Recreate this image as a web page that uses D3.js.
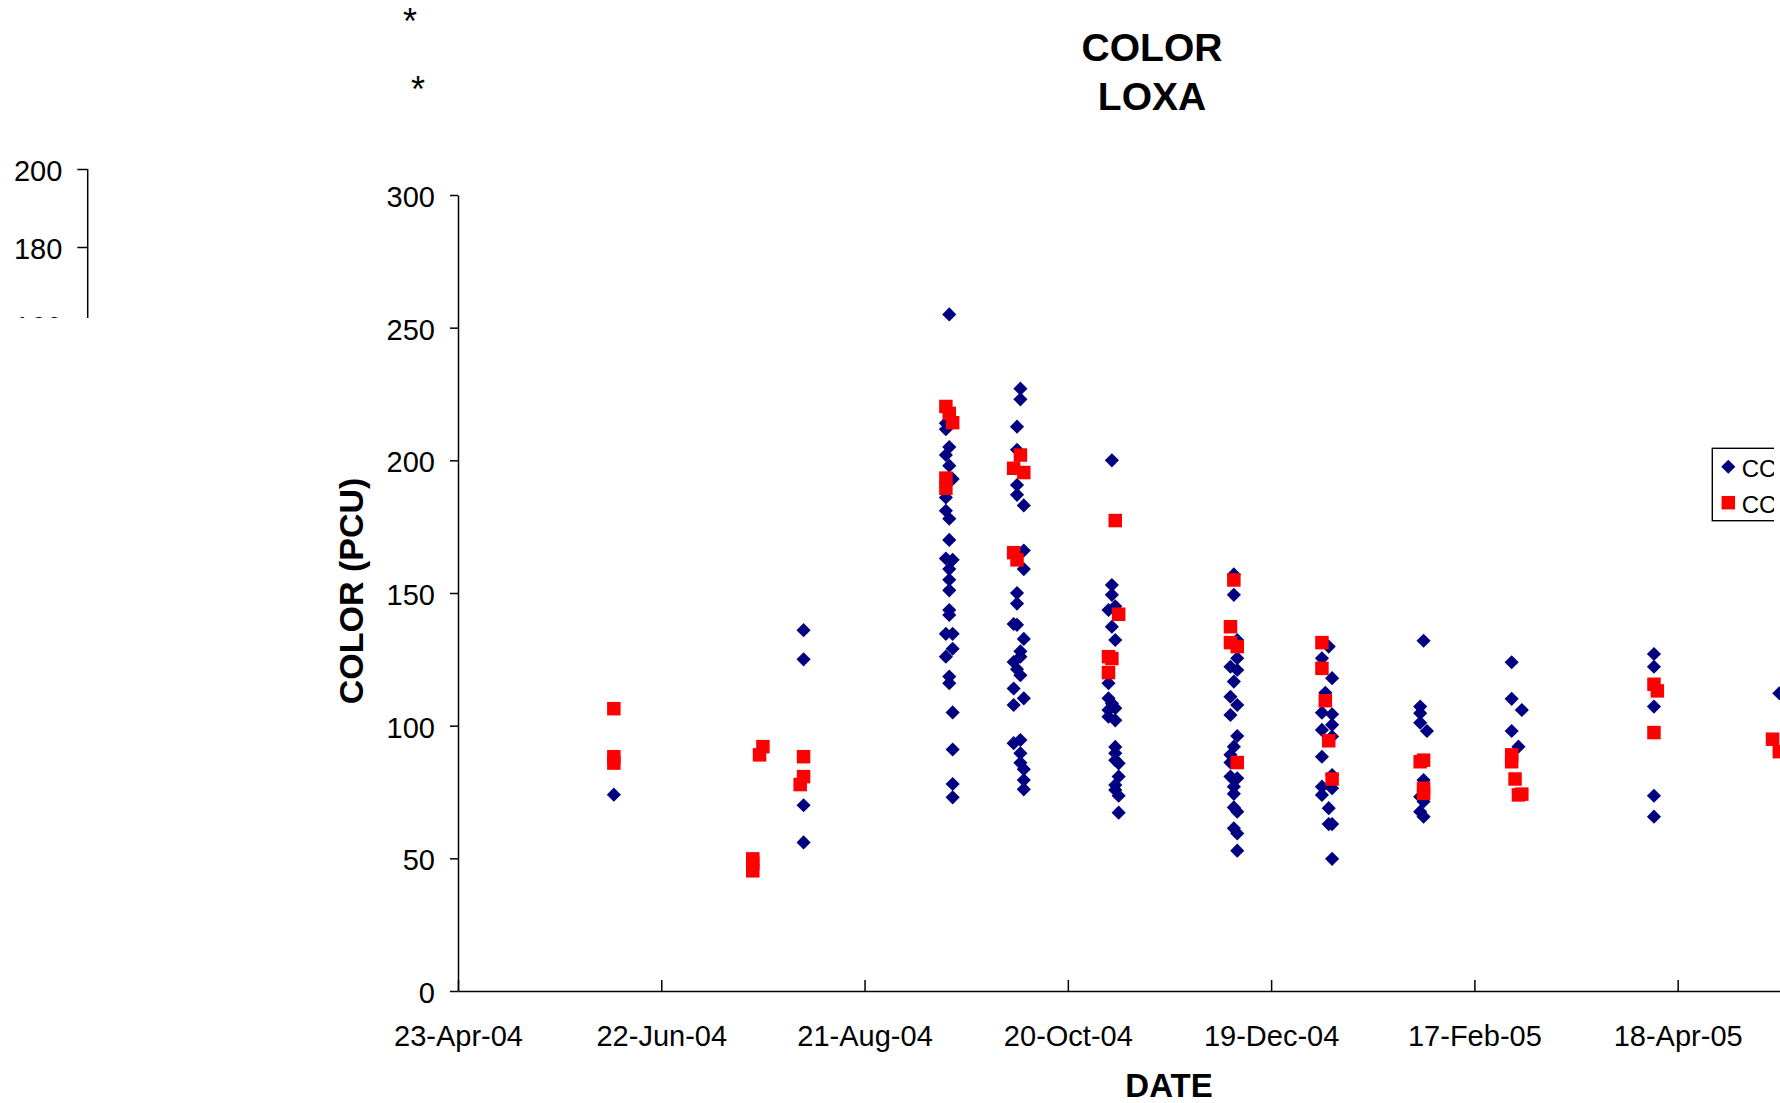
<!DOCTYPE html>
<html>
<head>
<meta charset="utf-8">
<script src="https://cdn.jsdelivr.net/npm/d3@7"></script>
<style>
  html, body { margin: 0; padding: 0; background: #fff; }
  svg { display: block; }
  text { font-family: "Liberation Sans", Arial, sans-serif; fill: #000; }
</style>
</head>
<body>
<svg id="chart" width="1780" height="1103"></svg>
<script>
// ---------------- DATA ----------------
const chartTitle = ["COLOR", "LOXA"];
const xTitle = "DATE";
const yTitle = "COLOR (PCU)";
const seriesNames = ["CC", "CC"];
const seriesColors = ["#000080", "#FF0000"];

const yTicks = [0, 50, 100, 150, 200, 250, 300];
const xTickDates = ["2004-04-23", "2004-06-22", "2004-08-21", "2004-10-20", "2004-12-19", "2005-02-17", "2005-04-18"];
const xTickLabels = ["23-Apr-04", "22-Jun-04", "21-Aug-04", "20-Oct-04", "19-Dec-04", "17-Feb-05", "18-Apr-05"];
const leftFragmentTicks = [160, 180, 200];

// Series 1 (navy diamonds)
const s1Dates = [
  "2004-06-08",
  "2004-08-03","2004-08-03","2004-08-03","2004-08-03",
  "2004-09-15","2004-09-14","2004-09-14","2004-09-15","2004-09-14","2004-09-15","2004-09-16","2004-09-14","2004-09-14","2004-09-15",
  "2004-09-15","2004-09-14","2004-09-16","2004-09-15","2004-09-15","2004-09-15","2004-09-15","2004-09-15","2004-09-14","2004-09-16",
  "2004-09-16","2004-09-14","2004-09-15","2004-09-15","2004-09-16","2004-09-16","2004-09-16","2004-09-16",
  "2004-10-06","2004-10-06","2004-10-05","2004-10-05","2004-10-05","2004-10-05","2004-10-07","2004-10-07","2004-10-07","2004-10-05",
  "2004-10-05","2004-10-04","2004-10-05","2004-10-07","2004-10-06","2004-10-06","2004-10-04","2004-10-05","2004-10-06","2004-10-04",
  "2004-10-07","2004-10-04","2004-10-06","2004-10-04","2004-10-06","2004-10-06","2004-10-07","2004-10-07","2004-10-07",
  "2004-11-02","2004-11-02","2004-11-02","2004-11-01","2004-11-03","2004-11-02","2004-11-03","2004-11-01","2004-11-01","2004-11-02",
  "2004-11-01","2004-11-03","2004-11-01","2004-11-03","2004-11-03","2004-11-03","2004-11-03","2004-11-04","2004-11-04","2004-11-03",
  "2004-11-03","2004-11-04","2004-11-04",
  "2004-12-08","2004-12-08","2004-12-09","2004-12-09","2004-12-07","2004-12-09","2004-12-08","2004-12-07","2004-12-09","2004-12-07",
  "2004-12-09","2004-12-08","2004-12-07","2004-12-07","2004-12-07","2004-12-09","2004-12-08","2004-12-08","2004-12-08","2004-12-09",
  "2004-12-08","2004-12-09","2004-12-09",
  "2005-01-05","2005-01-03","2005-01-06","2005-01-04","2005-01-03","2005-01-06","2005-01-06","2005-01-03","2005-01-06","2005-01-03",
  "2005-01-06","2005-01-03","2005-01-06","2005-01-03","2005-01-05","2005-01-05","2005-01-06","2005-01-06",
  "2005-02-02","2005-02-01","2005-02-01","2005-02-01","2005-02-03","2005-02-02","2005-02-01","2005-02-02","2005-02-01","2005-02-02",
  "2005-02-28","2005-02-28","2005-03-03","2005-02-28","2005-03-02",
  "2005-04-11","2005-04-11","2005-04-11","2005-04-11","2005-04-11",
  "2005-05-18"
];
const s1Values = [
  74,
  136, 125, 70, 56,
  255, 214, 211.7, 205, 202, 198, 193, 186, 181, 178,
  170, 163, 162.5, 159, 155, 151, 143.6, 141.7, 134.6, 134.6,
  129, 126, 118.5, 116, 105, 91, 78, 73,
  227, 223, 212.7, 204, 190.7, 187, 183, 166, 159, 150,
  146, 138.3, 138, 132.7, 128, 126, 124, 121.3, 119, 114,
  110.3, 107.8, 94.6, 93.4, 89.6, 86, 83.6, 79.5, 76,
  200, 153, 149.3, 143.6, 145, 137.3, 132.3, 116, 110.3, 108.4,
  105.9, 106.6, 103.4, 102, 92, 89.6, 87, 85.8, 80.8, 77.6,
  75.8, 73.6, 67.2,
  157, 149.3, 132.3, 125.4, 122.2, 121, 116.6, 110.9, 107.8, 104,
  96.1, 92.1, 89, 86.1, 80.8, 80.2, 77, 74.3, 69.2, 67.6,
  61.3, 59.4, 52.9,
  129.8, 125.4, 117.9, 112.4, 104.9, 104.3, 100.3, 98.4, 95.9, 88.3,
  81.4, 77, 76.4, 73.9, 68.9, 62.9, 62.9, 49.8,
  132, 107.2, 104.7, 101.1, 98, 79.5, 73.2, 71.4, 67.6, 65.7,
  123.9, 110.1, 105.9, 98, 92.1,
  127, 122.2, 107.2, 73.6, 65.7,
  112.2
];

// Series 2 (red squares)
const s2Dates = [
  "2004-06-08","2004-06-08","2004-06-08",
  "2004-07-22","2004-07-21","2004-07-19","2004-07-19","2004-07-19",
  "2004-08-03","2004-08-03","2004-08-02",
  "2004-09-14","2004-09-15","2004-09-16","2004-09-14","2004-09-14",
  "2004-10-06","2004-10-04","2004-10-07","2004-10-04","2004-10-05",
  "2004-11-03","2004-11-04","2004-11-01","2004-11-02","2004-11-01",
  "2004-12-08","2004-12-07","2004-12-07","2004-12-09","2004-12-09",
  "2005-01-03","2005-01-03","2005-01-04","2005-01-05","2005-01-06",
  "2005-02-01","2005-02-02","2005-02-02","2005-02-02",
  "2005-02-28","2005-02-28","2005-03-01","2005-03-02","2005-03-03",
  "2005-04-11","2005-04-12","2005-04-11",
  "2005-05-16","2005-05-18"
];
const s2Values = [
  106.4, 88.3, 85.9,
  92.1, 89, 49.8, 48.1, 45.3,
  88.3, 80.8, 77.8,
  220.3, 217.7, 214.2, 193.3, 189.5,
  202, 197, 195.4, 165.2, 162.5,
  177.3, 142, 126, 125.3, 120,
  154.9, 137.3, 131.3, 129.8, 86.1,
  131.3, 121.6, 109.4, 94.3, 79.9,
  86.4, 87, 76.4, 74.5,
  89, 86.4, 79.9, 73.9, 74.2,
  115.6, 113.1, 97.4,
  94.9, 90.2
];

// ---------------- DRAW ----------------
const svg = d3.select("#chart");
const parse = d3.utcParse("%Y-%m-%d");
const FONT = 29;
const FF = '"Liberation Sans", Arial, sans-serif';

const x = d3.scaleUtc()
  .domain([parse("2004-04-23"), parse("2005-06-17")])
  .range([458, 458 + 420 * 3.388]);
const y = d3.scaleLinear().domain([0, 300]).range([991, 195]);

const defs = svg.append("defs");
defs.append("clipPath").attr("id", "legendClip")
  .append("rect").attr("x", 0).attr("y", 0).attr("width", 1774).attr("height", 1103);
defs.append("clipPath").attr("id", "fragClip")
  .append("rect").attr("x", 0).attr("y", 0).attr("width", 300).attr("height", 318);

// Left fragment of another chart
const fy = d3.scaleLinear().domain([160, 200]).range([325, 169]);
const frag = svg.append("g").attr("clip-path", "url(#fragClip)")
  .append("g").attr("transform", "translate(87.7,0)")
  .call(d3.axisLeft(fy).tickValues(leftFragmentTicks).tickSize(10.4).tickSizeOuter(0).tickPadding(15));
frag.select(".domain").attr("d", "M0,169V400");
frag.selectAll("path, line").attr("stroke", "#000").attr("stroke-width", 1.5);
frag.selectAll("text").attr("font-size", FONT).attr("font-family", FF).attr("fill", "#000").attr("dy", "0.4em");

// Asterisks
svg.append("text").attr("x", 410).attr("y", 34).attr("text-anchor", "middle")
  .attr("font-size", 36).text("*");
svg.append("text").attr("x", 418).attr("y", 102).attr("text-anchor", "middle")
  .attr("font-size", 36).text("*");

// Title
svg.append("text").attr("x", 1152).attr("y", 61).attr("text-anchor", "middle")
  .attr("font-size", 39).attr("font-weight", "bold").text(chartTitle[0]);
svg.append("text").attr("x", 1152).attr("y", 110).attr("text-anchor", "middle")
  .attr("font-size", 39).attr("font-weight", "bold").text(chartTitle[1]);

// Y axis
const yAxis = svg.append("g").attr("transform", "translate(458,0)")
  .call(d3.axisLeft(y).tickValues(yTicks).tickSize(8).tickSizeOuter(0).tickPadding(15));
yAxis.selectAll("path, line").attr("stroke", "#000").attr("stroke-width", 1.5);
yAxis.selectAll("text").attr("font-size", FONT).attr("font-family", FF).attr("fill", "#000").attr("dy", "0.4em");

// X axis (line runs on past the right edge, as in the cropped original)
const xAxis = svg.append("g").attr("transform", "translate(0,991)")
  .call(d3.axisBottom(x).tickValues(xTickDates.map(parse))
    .tickFormat((d, i) => xTickLabels[i]).tickSizeInner(-11).tickSizeOuter(0).tickPadding(34));
xAxis.selectAll("path, line").attr("stroke", "#000").attr("stroke-width", 1.5);
xAxis.selectAll("text").attr("font-size", FONT).attr("font-family", FF).attr("fill", "#000");

// Axis titles
svg.append("text").attr("x", 1169).attr("y", 1097).attr("text-anchor", "middle")
  .attr("font-size", 33).attr("font-weight", "bold").text(xTitle);
svg.append("text").attr("transform", "translate(363,591) rotate(-90)").attr("text-anchor", "middle")
  .attr("font-size", 34).attr("font-weight", "bold").text(yTitle);

// Points
const diamond = d3.symbol().type(d3.symbolSquare).size(100);
const square = d3.symbol().type(d3.symbolSquare).size(182);

const s1 = s1Dates.map((d, i) => ({ date: parse(d), value: s1Values[i] }));
const s2 = s2Dates.map((d, i) => ({ date: parse(d), value: s2Values[i] }));

svg.append("g").selectAll("path").data(s1).join("path")
  .attr("d", diamond)
  .attr("transform", d => `translate(${x(d.date)},${y(d.value)}) rotate(45)`)
  .attr("fill", seriesColors[0]);

svg.append("g").selectAll("path").data(s2).join("path")
  .attr("d", square)
  .attr("transform", d => `translate(${x(d.date)},${y(d.value)})`)
  .attr("fill", seriesColors[1]);

// Legend (cut by the right edge of the original chart area)
const lg = svg.append("g").attr("clip-path", "url(#legendClip)");
lg.append("rect").attr("x", 1712.3).attr("y", 448.3).attr("width", 200).attr("height", 72.4)
  .attr("fill", "#fff").attr("stroke", "#000").attr("stroke-width", 1.4);
lg.append("path").attr("d", diamond).attr("transform", "translate(1728.3,466.7) rotate(45)").attr("fill", seriesColors[0]);
lg.append("path").attr("d", square).attr("transform", "translate(1728.3,502.7)").attr("fill", seriesColors[1]);
lg.append("text").attr("x", 1741.7).attr("y", 476.5).attr("font-size", 24).text(seriesNames[0]);
lg.append("text").attr("x", 1741.7).attr("y", 512.5).attr("font-size", 24).text(seriesNames[1]);
</script>
</body>
</html>
